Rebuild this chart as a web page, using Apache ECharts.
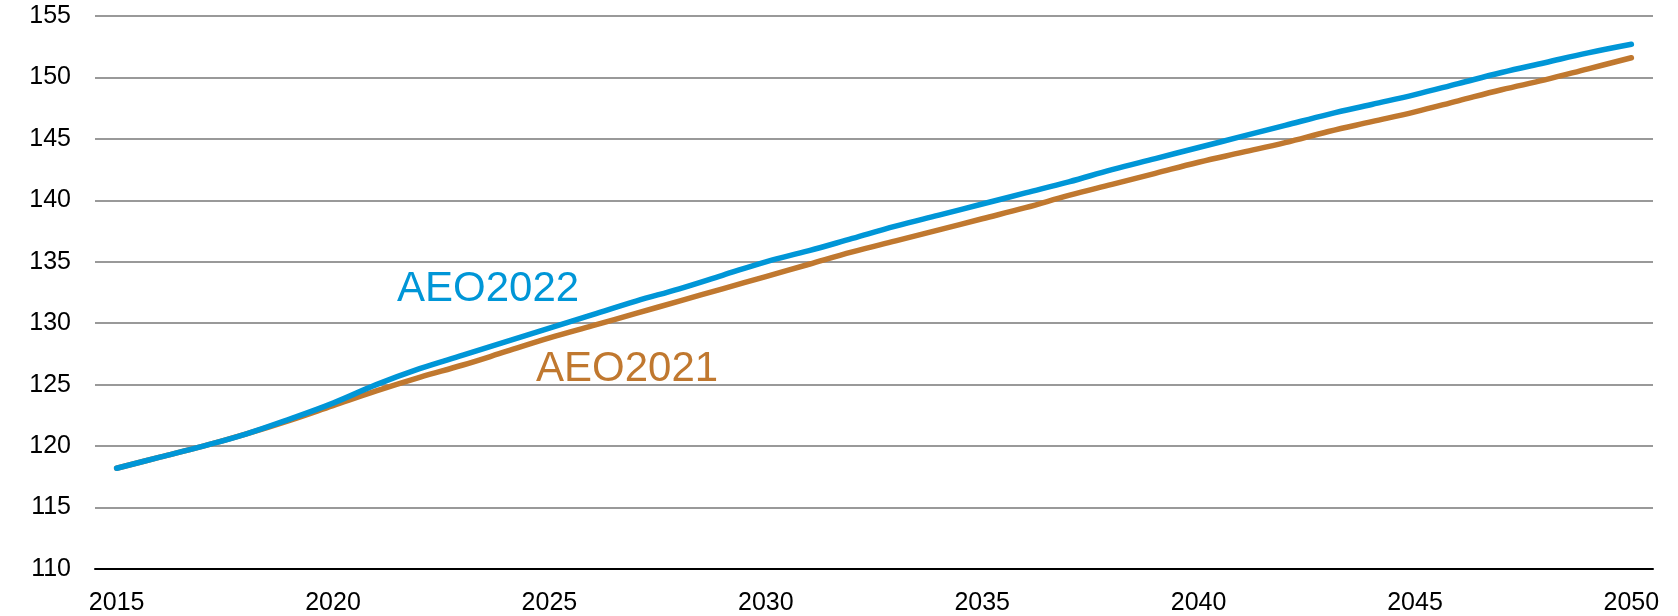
<!DOCTYPE html>
<html>
<head>
<meta charset="utf-8">
<script src="https://cdn.jsdelivr.net/npm/echarts@6/dist/echarts.min.js"></script>
<style>
  html, body { margin: 0; padding: 0; background: #fff; }
  #chart { width: 1678px; height: 616px; }
</style>
</head>
<body>
<div id="chart"></div>
<script>
const years = []
for (let y = 2015; y <= 2050; y++) years.push(String(y))

// AEO2022 projection
const aeo2022 = [
  118.2, 119.1, 120.0, 121.0, 122.2, 123.5, 125.0, 126.3, 127.4, 128.5,
  129.6, 130.7, 131.8, 132.8, 133.9, 135.0, 135.9, 136.9, 137.9, 138.8,
  139.7, 140.6, 141.5, 142.5, 143.4, 144.3, 145.2, 146.1, 147.0, 147.8,
  148.6, 149.5, 150.4, 151.2, 152.0, 152.7
]

// AEO2021 projection
const aeo2021 = [
  118.2, 119.1, 120.0, 121.0, 122.1, 123.3, 124.5, 125.6, 126.6, 127.7,
  128.8, 129.8, 130.8, 131.8, 132.8, 133.8, 134.8, 135.8, 136.7, 137.6,
  138.5, 139.4, 140.4, 141.3, 142.2, 143.1, 143.9, 144.7, 145.6, 146.4,
  147.2, 148.1, 149.0, 149.8, 150.7, 151.6
]

const blue = '#0096d7'
const brown = '#c0782f'
const font = '"Liberation Sans", Arial, sans-serif'

const chart = echarts.init(document.getElementById('chart'))

chart.setOption({
  animation: false,
  textStyle: { fontFamily: font },
  grid: { left: 95, right: 25, top: 16, bottom: 46 },
  xAxis: {
    type: 'category',
    data: years,
    boundaryGap: true,
    axisLine: { lineStyle: { color: '#000', width: 2 } },
    axisTick: { show: false },
    axisLabel: {
      interval: 4,
      color: '#000',
      fontSize: 25,
      fontFamily: font,
      margin: 22
    }
  },
  yAxis: {
    type: 'value',
    min: 110,
    max: 155,
    interval: 5,
    axisLine: { show: false },
    axisTick: { show: false },
    axisLabel: {
      color: '#000',
      fontSize: 25,
      fontFamily: font,
      margin: 24
    },
    splitLine: { lineStyle: { color: '#999', width: 2 } }
  },
  series: [
    {
      name: 'AEO2021',
      type: 'line',
      data: aeo2021,
      showSymbol: false,
      smooth: 0.4,
      lineStyle: { color: brown, width: 5.5, cap: 'round' },
      itemStyle: { color: brown }
    },
    {
      name: 'AEO2022',
      type: 'line',
      data: aeo2022,
      showSymbol: false,
      smooth: 0.4,
      lineStyle: { color: blue, width: 5.5, cap: 'round' },
      itemStyle: { color: blue }
    }
  ],
  graphic: [
    {
      type: 'text',
      left: 397,
      top: 268,
      style: { text: 'AEO2022', fill: blue, font: '42px ' + font }
    },
    {
      type: 'text',
      left: 536,
      top: 348,
      style: { text: 'AEO2021', fill: brown, font: '42px ' + font }
    }
  ]
})

window.addEventListener('resize', () => chart.resize())
</script>
</body>
</html>
